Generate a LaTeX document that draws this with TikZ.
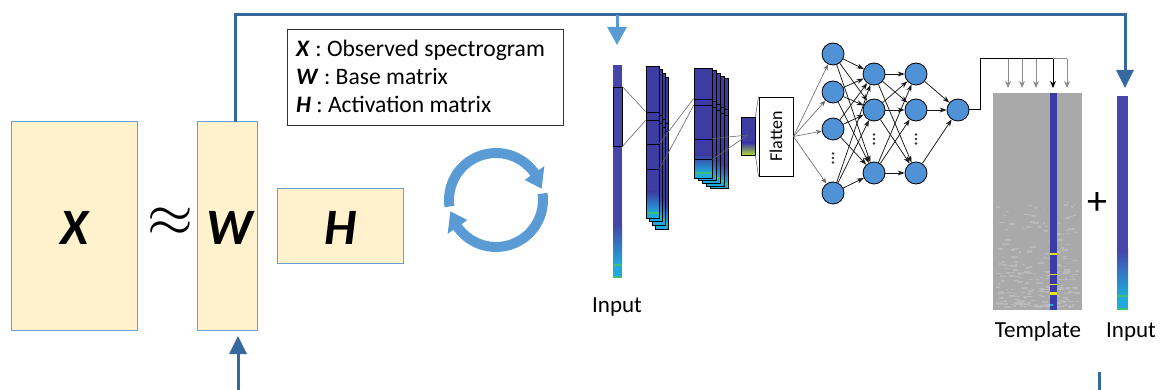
\documentclass[tikz,border=0pt]{standalone}
\usepackage{fontspec}
\setmainfont{Carlito}
\usetikzlibrary{arrows.meta}
\definecolor{matfill}{HTML}{FFF2CC}
\definecolor{boxblue}{HTML}{6A9FD4}
\definecolor{fbblue}{HTML}{36699E}
\definecolor{lightblue}{HTML}{5A9BD5}
\definecolor{nnblue}{HTML}{4F93D6}
\definecolor{specblue}{HTML}{3C3CA2}
\definecolor{specbarblue}{HTML}{4646AA}
\definecolor{speccyan}{HTML}{20A9DC}
\definecolor{specgreen}{HTML}{3DC07A}
\definecolor{specyellow}{HTML}{E6E21E}
\definecolor{tplgray}{HTML}{A9A9A9}
\definecolor{specklecol}{HTML}{BDBDBD}
\newcommand\inbar[6]{%
  \fill[specbarblue] (#1,#2) rectangle (#3,#5);
  \fill[top color=specbarblue, bottom color=speccyan] (#1,#5) rectangle (#3,#6);
  \fill[speccyan] (#1,#6) rectangle (#3,#4);
  \fill[specgreen] (#1,#6) rectangle (#3,{#6+1.6});
  \fill[specgreen] (#1,{#4-1.6}) rectangle (#3,#4);
}
\newcommand\cnnlayer[5]{%
  \fill[specblue] (#1,#2) rectangle (#3,#5);
  \fill[top color=specblue, bottom color=speccyan] (#1,#5) rectangle (#3,{#4-6});
  \fill[specgreen] (#1,{#4-6}) rectangle (#3,{#4-4});
  \fill[speccyan] (#1,{#4-4}) rectangle (#3,#4);
  \draw[cnnline] (#1,#2) rectangle (#3,#4);
}
\begin{document}
\begin{tikzpicture}[x=1pt,y=-1pt,
  matbox/.style={draw=boxblue, line width=1pt, fill=matfill, inner sep=0pt},
  bigletter/.style={font=\fontsize{51}{51}\selectfont\bfseries\itshape, inner sep=0pt},
  legendbox/.style={draw=black!80, line width=0.9pt, fill=white, inner sep=0pt},
  lgtext/.style={font=\fontsize{23.6}{28}\selectfont, inner sep=0pt},
  lbl/.style={font=\fontsize{23}{23}\selectfont, inner sep=0pt},
  fbline/.style={draw=fbblue, line width=3pt},
  fbhead/.style={-{Triangle[width=17pt,length=18pt]}},
  nnode/.style={circle, draw=black, line width=0.8pt, fill=nnblue, minimum size=22pt, inner sep=0pt},
  nnedge/.style={draw=black!90, line width=0.75pt, -{Stealth[length=7pt,width=5pt]}},
  fledge/.style={draw=black!60, line width=0.6pt, -{Stealth[length=6pt,width=4.5pt]}},
  cnnline/.style={draw=black, line width=0.7pt},
  cnnrect/.style={draw=black, line width=0.8pt, inner sep=0pt},
  linkline/.style={draw=black!60, line width=0.6pt},
  tarrow/.style={line width=1pt, -{Stealth[length=7pt,width=6pt]}},
  vdot/.style={fill=black!80},
  cyc/.style={fill=lightblue}
]
\useasboundingbox (0,0) rectangle (1162,390);

% ---- NMF part ----
\node[matbox, minimum width=126pt, minimum height=208pt] (X) at (74,226) {};
\node[bigletter] (Xl) at (75,228) {X};
\node[inner sep=0pt] (approxs) at (170,222) {\scalebox{5.9}{$\approx$}};
\node[matbox, minimum width=60pt, minimum height=208pt] (W) at (227,226) {};
\node[bigletter] (Wl) at (230,228) {W};
\node[matbox, minimum width=126pt, minimum height=74pt] (H) at (340,226) {};
\node[bigletter] (Hl) at (341,228) {H};

% legend
\node[legendbox, minimum width=276pt, minimum height=96pt] (legend) at (425,77) {};
\node[lgtext, anchor=base west] (l1) at (296,57) {\textbf{\textit{X}} : Observed spectrogram};
\node[lgtext, anchor=base west] (l2) at (296,85) {\textbf{\textit{W}} : Base matrix};
\node[lgtext, anchor=base west] (l3) at (296,113) {\textbf{\textit{H}} : Activation matrix};

% cycle arrows
\begin{scope}[shift={(496,200)}, yscale=-1]
  \fill[cyc] (188:42) arc[start angle=188,end angle=35,radius=42] -- (35:35) -- (14:47) -- (35:59) -- (35:52) arc[start angle=35,end angle=188,radius=52] -- cycle;
  \fill[cyc] (8:42) arc[start angle=8,end angle=-145,radius=42] -- (-145:35) -- (-166:47) -- (-145:59) -- (-145:52) arc[start angle=-145,end angle=8,radius=52] -- cycle;
\end{scope}

% ---- CNN part ----
\inbar{613}{65}{622}{278}{225}{264}
\node[cnnrect, minimum width=9pt, minimum height=59pt] (inR) at (617.5,116.5) {};
\node[lbl, anchor=base] (inlbl) at (617,312) {Input};

\foreach \i in {3,2,1,0}{
  \begin{scope}[shift={(3*\i,3.7*\i)}]
    \cnnlayer{646}{66}{659}{218}{192}
    \draw[cnnline] (646,112) rectangle (659,120);
  \end{scope}
}
\node[cnnrect, minimum width=13pt, minimum height=8pt] (c1a) at (652.5,116) {};
\node[cnnrect, minimum width=13pt, minimum height=25pt] (c1b) at (652.5,156.5) {};

\foreach \i in {4,3,2,1,0}{
  \begin{scope}[shift={(4*\i,2.7*\i)}]
    \cnnlayer{694}{68}{712}{178}{155}
    \draw[cnnline] (694,99) rectangle (712,105);
  \end{scope}
}
\node[cnnrect, minimum width=18pt, minimum height=6pt] (c2a) at (703,102) {};
\node[cnnrect, minimum width=18pt, minimum height=20pt] (c2b) at (703,149) {};

\fill[specblue] (741,117) rectangle (755,155);
\fill[top color=specblue, bottom color=specyellow!70!specgreen] (741,143) rectangle (755,155);
\node[cnnrect, minimum width=14pt, minimum height=38pt] (sb) at (748,136) {};
\coordinate (sbp) at (748,135);

\node[draw=black, line width=0.9pt, fill=white, minimum width=34pt, minimum height=79pt, inner sep=0pt] (flat) at (776,136.5) {};
\node[font=\fontsize{18}{18}\selectfont, rotate=90, inner sep=0pt] (flatl) at (flat.center) {Flatten};

\draw[linkline] (inR.north east) -- (c1a.north west);
\draw[linkline] (inR.south east) -- (c1a.south west);
\draw[linkline] (c1b.north east) -- (c2a.north west);
\draw[linkline] (c1b.south east) -- (c2a.south west);
\draw[linkline] (c2b.north east) -- (sbp);
\draw[linkline] (c2b.south east) -- (sbp);
\draw[linkline] (sb.north east) -- (flat.north west);
\draw[linkline] (sb.south east) -- (flat.south west);

% ---- dense network ----
\node[nnode] (a1) at (833,54) {};
\node[nnode] (a2) at (833,92) {};
\node[nnode] (a3) at (833,129) {};
\node[nnode] (a4) at (833,193) {};
\node[nnode] (b1) at (874,74) {};
\node[nnode] (b2) at (874,110) {};
\node[nnode] (b3) at (874,173) {};
\node[nnode] (d1) at (916,74) {};
\node[nnode] (d2) at (916,110) {};
\node[nnode] (d3) at (916,173) {};
\node[nnode] (o) at (958,110) {};

\foreach \j in {a1,a2,a3,a4} \draw[fledge] (flat.east) -- (\j);
\foreach \i in {a1,a2,a3,a4} \foreach \j in {b1,b2,b3} \draw[nnedge] (\i) -- (\j);
\foreach \i in {b1,b2,b3} \foreach \j in {d1,d2,d3} \draw[nnedge] (\i) -- (\j);
\foreach \i in {d1,d2,d3} \draw[nnedge] (\i) -- (o);

\foreach \x/\y in {833/158,874/139,916/139}{
  \foreach \dy in {-4.5,0,4.5} \fill[vdot] (\x,\y+\dy) circle[radius=1.3];
}

% ---- template ----
\node[fill=tplgray, minimum width=89pt, minimum height=217pt, inner sep=0pt] (tpl) at (1037.5,201.5) {};
\pgfmathsetseed{12}
\foreach \k in {1,...,260}{
  \pgfmathsetmacro\yy{307-120*rnd*rnd}
  \pgfmathsetmacro\xx{995+rnd*80}
  \pgfmathsetmacro\ww{1.5+rnd*5}
  \fill[specklecol, opacity=0.8] (\xx,\yy) rectangle ++(\ww,1.4);
}
\fill[specblue] (1050,93) rectangle (1057,310);
\fill[specyellow] (1050,253.5) rectangle (1057,255);
\fill[specyellow] (1050,273.5) rectangle (1057,275);
\fill[specyellow] (1050,283.5) rectangle (1057,285);
\fill[specyellow] (1050,292) rectangle (1057,295);
\fill[speccyan] (1050,304) rectangle (1053,306);
\node[lbl, anchor=base] (tlbl) at (1038,337) {Template};

\coordinate (tl) at (980,59);
\coordinate (tb) at (1053,59);
\coordinate (tg) at (1067,59);
\draw[black, line width=1pt] (o.east) -| (tl) -- (tb);
\draw[black!45, line width=1pt] (tb) -- (tg);
\foreach \x/\n in {1008/1,1022/2,1036/3,1067/5}{
  \coordinate (s\n) at (\x,59);
  \coordinate (e\n) at (\x,88);
  \draw[tarrow, black!45] (s\n) -- (e\n);
}
\coordinate (e4) at (1053,88);
\draw[tarrow, black] (tb) -- (e4);

\node[font=\fontsize{40}{40}\selectfont, inner sep=0pt] (plus) at (1097,204) {+};

\inbar{1117}{96}{1128}{310}{250}{295}
\node[lbl, anchor=base] (inlbl2) at (1131,337) {Input};

% ---- feedback lines ----
\coordinate (wtop) at (235,122);
\coordinate (ftr) at (1125,15);
\coordinate (fin) at (1125,88);
\draw[fbline, fbhead] (wtop) |- (ftr) -- (fin);
\coordinate (bsplit) at (617,15);
\coordinate (bin) at (617,45);
\draw[draw=lightblue, line width=3pt, -{Triangle[width=19pt,length=18pt]}] (bsplit) -- (bin);
\coordinate (wbot) at (238,336);
\coordinate (bstart) at (238,392);
\draw[fbline, fbhead] (bstart) -- (wbot);
\coordinate (rb1) at (1099,372);
\coordinate (rb2) at (1099,392);
\draw[fbline] (rb1) -- (rb2);
\end{tikzpicture}
\end{document}
